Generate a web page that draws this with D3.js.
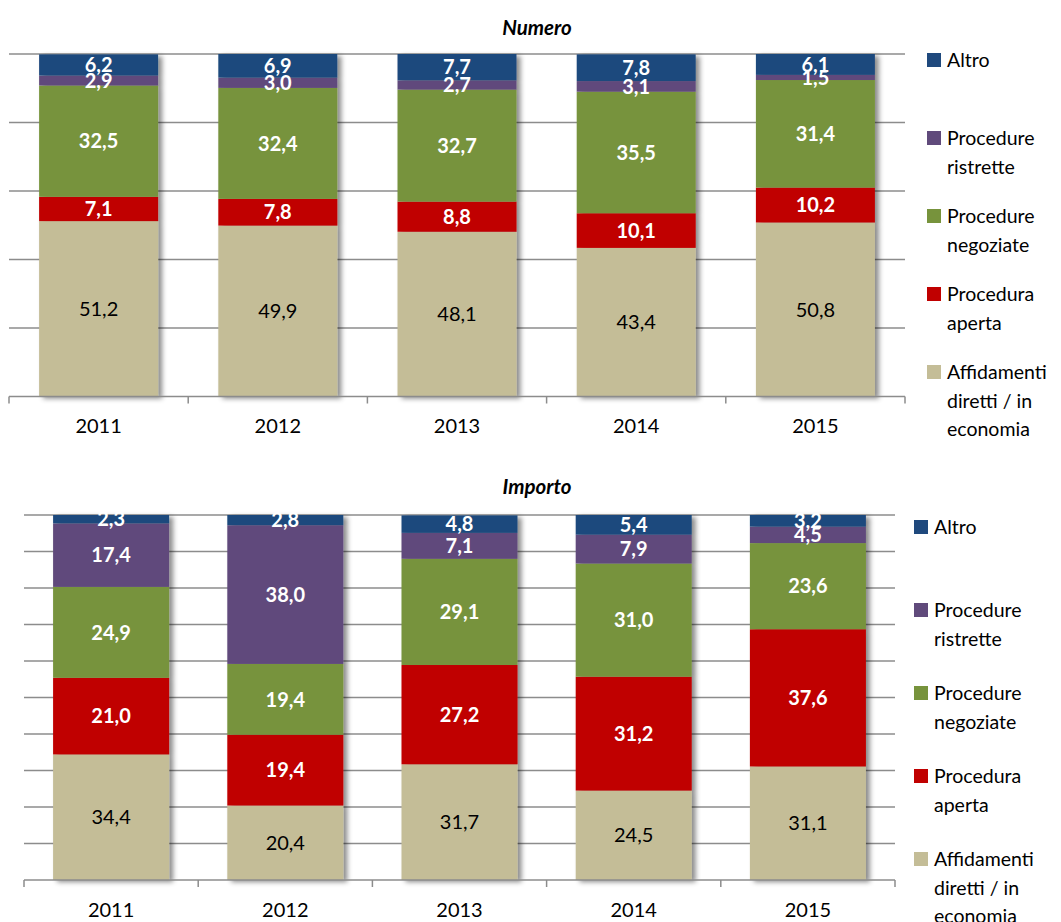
<!DOCTYPE html>
<html>
<head>
  <meta charset="utf-8">
  <title>Numero / Importo</title>
  <script src="https://d3js.org/d3.v7.min.js"></script>
  <style>
    body { margin: 0; background: #fff; }
    text { font-family: Lato, "Open Sans", sans-serif; }
  </style>
</head>
<body>
<script>
// categories
const years = ['2011', '2012', '2013', '2014', '2015'];
const seriesNames = ['Affidamenti diretti / in economia', 'Procedura aperta', 'Procedure negoziate', 'Procedure ristrette', 'Altro'];
const seriesColors = ['#C4BD97', '#C00000', '#77933C', '#604A7B', '#1F497D'];
// legend text split in lines (top item first)
const legendLines = {
  'Altro': ['Altro'],
  'Procedure ristrette': ['Procedure', 'ristrette'],
  'Procedure negoziate': ['Procedure', 'negoziate'],
  'Procedura aperta': ['Procedura', 'aperta'],
  'Affidamenti diretti / in economia': ['Affidamenti', 'diretti / in', 'economia']
};

// Numero (%)
const numeroAffidamenti = [51.2, 49.9, 48.1, 43.4, 50.8];
const numeroAperta      = [7.1, 7.8, 8.8, 10.1, 10.2];
const numeroNegoziate   = [32.5, 32.4, 32.7, 35.5, 31.4];
const numeroRistrette   = [2.9, 3.0, 2.7, 3.1, 1.5];
const numeroAltro       = [6.2, 6.9, 7.7, 7.8, 6.1];

// Importo (%)
const importoAffidamenti = [34.4, 20.4, 31.7, 24.5, 31.1];
const importoAperta      = [21.0, 19.4, 27.2, 31.2, 37.6];
const importoNegoziate   = [24.9, 19.4, 29.1, 31.0, 23.6];
const importoRistrette   = [17.4, 38.0, 7.1, 7.9, 4.5];
const importoAltro       = [2.3, 2.8, 4.8, 5.4, 3.2];

const gridTop = [0, 20, 40, 60, 80, 100];
const gridBottom = [0, 10, 20, 30, 40, 50, 60, 70, 80, 90, 100];

const svg = d3.select('body').append('svg')
  .attr('width', 1061)
  .attr('height', 922);

svg.append('defs').append('filter')
  .attr('id', 'shadow')
  .attr('x', '-10%').attr('y', '-10%').attr('width', '130%').attr('height', '130%')
  .append('feDropShadow')
  .attr('dx', 4).attr('dy', 2)
  .attr('stdDeviation', 2.5)
  .attr('flood-color', '#000')
  .attr('flood-opacity', 0.45);

function drawChart(opt) {
  const g = svg.append('g');
  const rows = years.map((y, i) => {
    const r = { year: y };
    seriesNames.forEach((s, k) => r[s] = opt.values[k][i]);
    return r;
  });
  const stacked = d3.stack().keys(seriesNames)(rows);

  const x = d3.scaleBand().domain(years).range([opt.left, opt.right]).padding(0);
  const y = d3.scaleLinear().domain([0, 100]).range([opt.bottom, opt.top]);
  const barW = x.bandwidth() * opt.barRatio;
  const off = (x.bandwidth() - barW) / 2;

  // title
  g.append('text')
    .attr('x', 537).attr('y', opt.titleY)
    .attr('text-anchor', 'middle')
    .style('font-size', '20.5px')
    .style('font-weight', 'bold')
    .style('font-style', 'italic')
    .text(opt.title);

  // gridlines
  g.selectAll('.grid').data(opt.grid.slice(1)).enter().append('line')
    .attr('x1', opt.left).attr('x2', opt.right)
    .attr('y1', d => y(d)).attr('y2', d => y(d))
    .attr('stroke', '#8c8c8c').attr('stroke-width', 1.5);

  // bars, one group per year so the shadow covers the full stack
  const bars = g.selectAll('.bar').data(years).enter().append('g')
    .attr('filter', 'url(#shadow)');
  bars.each(function(yr, i) {
    d3.select(this).selectAll('rect').data(stacked).enter().append('rect')
      .attr('x', x(yr) + off)
      .attr('width', barW)
      .attr('y', s => y(s[i][1]))
      .attr('height', s => y(s[i][0]) - y(s[i][1]))
      .attr('fill', (s, k) => seriesColors[k]);
  });

  // x axis
  g.append('line')
    .attr('x1', opt.left).attr('x2', opt.right)
    .attr('y1', opt.bottom).attr('y2', opt.bottom)
    .attr('stroke', '#8c8c8c').attr('stroke-width', 1.5);
  const ticks = years.map(d => x(d)).concat([opt.right]);
  g.selectAll('.tick').data(ticks).enter().append('line')
    .attr('x1', d => d).attr('x2', d => d)
    .attr('y1', opt.bottom).attr('y2', opt.bottom + 7)
    .attr('stroke', '#8c8c8c').attr('stroke-width', 1.5);
  g.selectAll('.year').data(years).enter().append('text')
    .attr('x', d => x(d) + x.bandwidth() / 2)
    .attr('y', opt.yearY)
    .attr('text-anchor', 'middle')
    .style('font-size', '20px')
    .text(d => d);

  // data labels
  stacked.forEach((s, k) => {
    g.selectAll('.lbl' + k).data(s).enter().append('text')
      .attr('x', (d, i) => x(years[i]) + x.bandwidth() / 2)
      .attr('y', d => y((d[0] + d[1]) / 2))
      .attr('dy', '0.36em')
      .attr('text-anchor', 'middle')
      .style('font-size', '20px')
      .style('font-weight', k === 0 ? 'normal' : 'bold')
      .attr('fill', k === 0 ? '#000' : '#fff')
      .text(d => d3.format('.1f')(d[1] - d[0]).replace('.', ','));
  });

  // legend
  const order = seriesNames.slice().reverse();
  order.forEach((name, j) => {
    const cy = opt.legendY + j * opt.legendStep;
    const k = seriesNames.indexOf(name);
    g.append('rect')
      .attr('x', opt.legendX).attr('y', cy - 7)
      .attr('width', 14).attr('height', 14)
      .attr('fill', seriesColors[k]);
    legendLines[name].forEach((line, li) => {
      g.append('text')
        .attr('x', opt.legendX + 20)
        .attr('y', cy + li * 28.5)
        .attr('dy', '0.36em')
        .style('font-size', '19.5px')
        .text(line);
    });
  });
}

drawChart({
  title: 'Numero', titleY: 35,
  values: [numeroAffidamenti, numeroAperta, numeroNegoziate, numeroRistrette, numeroAltro],
  left: 9, right: 905, top: 54, bottom: 396.5, barRatio: 0.664,
  grid: gridTop, yearY: 433,
  legendX: 927, legendY: 60, legendStep: 78
});

drawChart({
  title: 'Importo', titleY: 494,
  values: [importoAffidamenti, importoAperta, importoNegoziate, importoRistrette, importoAltro],
  left: 24, right: 895, top: 515, bottom: 880, barRatio: 0.666,
  grid: gridBottom, yearY: 917,
  legendX: 914, legendY: 527, legendStep: 83
});
</script>
</body>
</html>
